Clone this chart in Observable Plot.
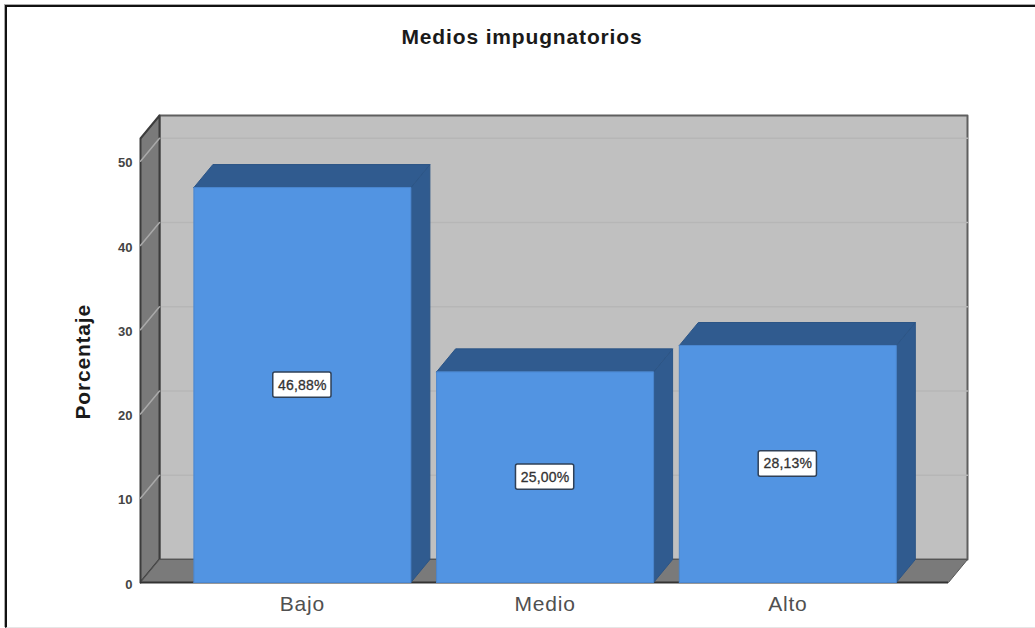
<!DOCTYPE html>
<html lang="es">
<head>
<meta charset="utf-8">
<title>Medios impugnatorios</title>
<script src="https://cdn.jsdelivr.net/npm/d3@7"></script>
<script src="https://cdn.jsdelivr.net/npm/@observablehq/plot@0.6"></script>
<style>
  html, body { margin: 0; padding: 0; background: #fff; }
  #lienzo { position: relative; width: 1035px; height: 628px; overflow: hidden; }
  #marco {
    position: absolute; left: 5px; top: 5px; right: -4px; bottom: 0;
    border-left: 2px solid #111; border-top: 2px solid #111;
    border-bottom: 1px solid #e6e6e6;
    box-shadow: -1px -1px 0 #aaa;
  }
  #lienzo svg { position: absolute; left: 0; top: 0; background: transparent; }
  .titulo { letter-spacing: 0.85px; }
  .ejeTitulo { letter-spacing: 0.8px; }
  .ejeCat { letter-spacing: 0.8px; }
  .valor { letter-spacing: 0.2px; }
</style>
</head>
<body>
<div id="lienzo"><div id="marco"></div></div>
<script>
const titulo = "Medios impugnatorios";
const ejeY = "Porcentaje";
const categorias = ["Bajo", "Medio", "Alto"];
const porcentajes = [46.88, 25.0, 28.13];
const etiquetas = ["46,88%", "25,00%", "28,13%"];
const marcasY = [0, 10, 20, 30, 40, 50];

// Extents of the 3D box, in units of the category index and of percent
const xIni = -0.667, xFin = 2.662;
const yTecho = 52.7;
const fondoX = 0.0783, fondoY = 2.73;
const mediaBarra = 0.447;
const mediaCajaX = 0.12, mediaCajaY = 1.5;

// A closed polygon expressed as rows for a filled line mark
const poligono = (z, puntos) =>
  [...puntos, puntos[0]].map(([x, y]) => ({z, x, y}));
const cara = (filas, fill, stroke, strokeWidth = 1) =>
  Plot.line(filas, {x: "x", y: "y", z: "z", fill, stroke, strokeWidth, curve: "linear"});

const caras = porcentajes.map((v, i) => {
  const a = i - mediaBarra, b = i + mediaBarra;
  return {
    frente: poligono(i, [[a, 0], [b, 0], [b, v], [a, v]]),
    tapa: poligono(i, [[a, v], [b, v], [b + fondoX, v + fondoY], [a + fondoX, v + fondoY]]),
    lado: poligono(i, [[b, 0], [b + fondoX, fondoY], [b + fondoX, v + fondoY], [b, v]])
  };
});

const plot = Plot.plot({
  width: 1035,
  height: 628,
  marginLeft: 140,
  marginRight: 68,
  marginTop: 115,
  marginBottom: 46,
  x: {domain: [xIni, xFin + fondoX], axis: null},
  y: {domain: [0, yTecho + fondoY], axis: null},
  style: {fontFamily: "'Liberation Sans', Arial, sans-serif", background: "transparent"},
  marks: [
    // back wall and its gridlines
    cara(poligono("pared", [[xIni + fondoX, fondoY], [xFin + fondoX, fondoY], [xFin + fondoX, yTecho + fondoY], [xIni + fondoX, yTecho + fondoY]]), "#c0c0c0", "#5f5f5f", 2),
    Plot.line(marcasY.filter(k => k > 0).flatMap(k => [
      {z: k, x: xIni + fondoX, y: k + fondoY},
      {z: k, x: xFin + fondoX, y: k + fondoY}
    ]), {x: "x", y: "y", z: "z", stroke: "#b6b6b6", strokeWidth: 1.5}),

    // left wall and floor
    cara(poligono("izq", [[xIni, 0], [xIni + fondoX, fondoY], [xIni + fondoX, yTecho + fondoY], [xIni, yTecho]]), "#7a7a7a", "#3c3c3c", 2),
    cara(poligono("piso", [[xIni, 0], [xFin, 0], [xFin + fondoX, fondoY], [xIni + fondoX, fondoY]]), "#7a7a7a", "#555555", 1),
    Plot.ruleY([0], {x1: xIni, x2: xFin, stroke: "#333333", strokeWidth: 2}),
    Plot.line(marcasY.filter(k => k > 0).flatMap(k => [
      {z: k, x: xIni, y: k},
      {z: k, x: xIni + fondoX, y: k + fondoY}
    ]), {x: "x", y: "y", z: "z", stroke: "#a9a9a9", strokeWidth: 1.5}),

    // bars
    ...caras.flatMap(c => [
      cara(c.lado, "#305b8f", "#2c5586"),
      cara(c.tapa, "#305b8f", "#2c5586"),
      cara(c.frente, "#5294e2", "#4a86cf")
    ]),

    // value labels, centred on each bar
    Plot.rect(porcentajes, {
      x1: (v, i) => i - mediaCajaX, x2: (v, i) => i + mediaCajaX,
      y1: v => v / 2 - mediaCajaY, y2: v => v / 2 + mediaCajaY,
      fill: "#ffffff", stroke: "#2f4057", strokeWidth: 1.5, r: 2
    }),
    Plot.text(etiquetas, {
      x: (d, i) => i, y: (d, i) => porcentajes[i] / 2,
      text: d => d, fontSize: 14, fill: "#333333", stroke: "#333333", strokeWidth: 0.3,
      className: "valor"
    }),

    // axes
    Plot.axisY({ticks: marcasY, tickSize: 0, tickPadding: 8, anchor: "left", label: null,
      fontSize: 13, fontWeight: "bold", color: "#444444", tickFormat: d => d, dy: 2}),
    Plot.axisX({ticks: [0, 1, 2], tickFormat: i => categorias[i], tickSize: 0, tickPadding: 14,
      anchor: "bottom", label: null, fontSize: 21, color: "#505050", className: "ejeCat"}),

    // vertical axis title and chart title
    Plot.text([ejeY], {x: xIni, y: 26.2, dx: -57, rotate: -90, text: d => d,
      fontSize: 21, fontWeight: "bold", fill: "#1a1a1a", className: "ejeTitulo"}),
    Plot.text([titulo], {frameAnchor: "top", dx: -32, dy: -86, text: d => d,
      fontSize: 21, fontWeight: "bold", fill: "#1a1a1a", className: "titulo"})
  ]
});

document.getElementById("lienzo").appendChild(plot);
</script>
</body>
</html>
